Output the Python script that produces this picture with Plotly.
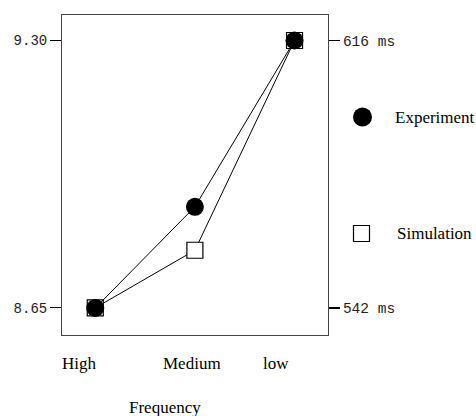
import plotly.graph_objects as go

categories = ["High", "Medium", "low"]
experiment_ms = [542, 570, 616]        # right axis (ms)
simulation = [8.65, 8.79, 9.30]        # left axis
left_ticks = [8.65, 9.30]
left_ticktext = ["8.65", "9.30"]
right_ticks = [542, 616]
right_ticktext = ["542 ms", "616 ms"]
label_shift = [-16, -3, -19]
x_title = "Frequency"
legend_names = ["Experiment", "Simulation"]

serif = "Liberation Serif, Times New Roman, serif"
mono = "Liberation Mono, Courier New, monospace"

fig = go.Figure()
fig.add_trace(go.Scatter(
    x=categories, y=simulation, mode="lines+markers", name=legend_names[1],
    line=dict(color="black", width=1),
    marker=dict(symbol="square", size=16, color="white",
                line=dict(color="black", width=1.2)),
    yaxis="y", cliponaxis=False, showlegend=False, hoverinfo="skip"))
fig.add_trace(go.Scatter(
    x=categories, y=experiment_ms, mode="lines+markers", name=legend_names[0],
    line=dict(color="black", width=1),
    marker=dict(symbol="circle", size=18, color="black",
                line=dict(color="black", width=0)),
    yaxis="y2", cliponaxis=False, showlegend=False, hoverinfo="skip"))

fig.update_layout(
    width=476, height=416,
    margin=dict(l=62, r=148, t=15, b=81, pad=0),
    paper_bgcolor="white", plot_bgcolor="white",
    xaxis=dict(type="category", range=[-0.334, 2.336], showgrid=False,
               zeroline=False, showticklabels=False, ticks="",
               showline=True, mirror=True, linecolor="#444", linewidth=1),
    yaxis=dict(range=[8.584, 9.362], tickvals=left_ticks, ticktext=left_ticktext,
               ticks="outside", ticklen=11, tickwidth=1.2, tickcolor="black",
               showgrid=False, zeroline=False,
               showline=True, mirror=True, linecolor="#444", linewidth=1,
               tickfont=dict(family=mono, size=14, color="#222")),
    yaxis2=dict(range=[534.53, 623.05], tickvals=right_ticks, ticktext=right_ticktext,
                overlaying="y", side="right",
                ticks="outside", ticklen=11, tickwidth=1.2, tickcolor="black",
                showgrid=False, zeroline=False, showline=False,
                tickfont=dict(family=mono, size=14.5, color="#222")),
    showlegend=False,
)

annotations = []
for cat, dx in zip(categories, label_shift):
    annotations.append(dict(x=cat, xref="x", y=-0.0875, yref="paper",
                            text=cat, showarrow=False, xshift=dx,
                            xanchor="center", yanchor="middle",
                            font=dict(family=serif, size=17, color="black")))
annotations.append(dict(x=0.387, xref="paper", y=-0.228, yref="paper",
                        text=x_title, showarrow=False, xanchor="center",
                        yanchor="middle",
                        font=dict(family=serif, size=17, color="black")))
annotations.append(dict(x=(393 - 62) / 266, xref="paper", y=(335 - 117) / 320,
                        yref="paper", text=legend_names[0], showarrow=False,
                        xanchor="left", yanchor="middle",
                        font=dict(family=serif, size=17, color="black")))
annotations.append(dict(x=(395 - 62) / 266, xref="paper", y=(335 - 233) / 320,
                        yref="paper", text=legend_names[1], showarrow=False,
                        xanchor="left", yanchor="middle",
                        font=dict(family=serif, size=17, color="black")))
fig.update_layout(annotations=annotations)

shapes = [
    dict(type="circle", xref="paper", yref="paper",
         xsizemode="pixel", ysizemode="pixel",
         xanchor=(362.5 - 62) / 266, yanchor=(335 - 117) / 320,
         x0=-9.5, x1=9.5, y0=-9.5, y1=9.5,
         fillcolor="black", line=dict(color="black", width=0)),
    dict(type="rect", xref="paper", yref="paper",
         xsizemode="pixel", ysizemode="pixel",
         xanchor=(361.5 - 62) / 266, yanchor=(335 - 233.5) / 320,
         x0=-8, x1=8, y0=-8, y1=8,
         fillcolor="white", line=dict(color="black", width=1.2)),
]
fig.update_layout(shapes=shapes)

fig.write_html("out.html",
               config={"displayModeBar": False, "staticPlot": True},
               post_script="document.body.style.margin='0';"
                           "document.body.style.padding='0';"
                           "document.body.style.overflow='hidden';")
